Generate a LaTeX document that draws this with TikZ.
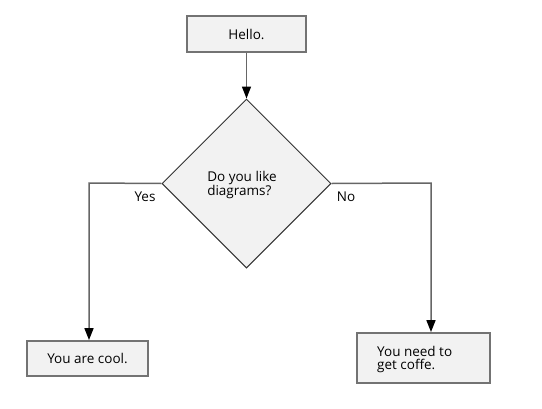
\documentclass[tikz,border=0pt]{standalone}
\usepackage{fontspec}
\setmainfont{Open Sans}
\usetikzlibrary{shapes.geometric,arrows.meta}
\begin{document}
\begin{tikzpicture}[x=1pt,y=-1pt,
  box/.style={draw=black!55,line width=1.8pt,fill=black!5,inner sep=0pt,font=\fontsize{13.5}{13}\selectfont},
  dec/.style={draw=black!80,line width=1pt,fill=black!5,diamond,inner sep=0pt,minimum width=169pt,minimum height=169pt},
  conn/.style={draw=black!60,line width=1.5pt,-{Triangle[length=12pt,width=9pt,color=black,fill=black]}},
  lbl/.style={font=\fontsize{13.5}{13}\selectfont}]
\useasboundingbox (0,0) rectangle (542,408);
\node[box,minimum width=119pt,minimum height=36pt] (hello) at (246.5,34) {Hello.};
\node[dec] (q) at (246.5,183.5) {};
\node[lbl,align=left] (qt) at (242,185) {Do you like\\diagrams?};
\node[box,minimum width=121pt,minimum height=35pt] (cool) at (87.5,358.5) {You are cool.};
\node[box,minimum width=133pt,minimum height=50pt] (coffee) at (423.5,358) {};
\node[lbl,align=left,anchor=west,inner xsep=0pt] (coffeet) at (377,359) {You need to\\get coffe.};
\coordinate (yl) at (89,183);
\coordinate (nr) at (431,183);
\draw[conn] (hello.south) -- (q.north);
\draw[conn] (q.west) -- (yl) -- (yl |- cool.north);
\draw[conn] (q.east) -- (nr) -- (nr |- coffee.north);
\node[lbl] (yes) at (145,197) {Yes};
\node[lbl] (no) at (346,197) {No};
\end{tikzpicture}
\end{document}
